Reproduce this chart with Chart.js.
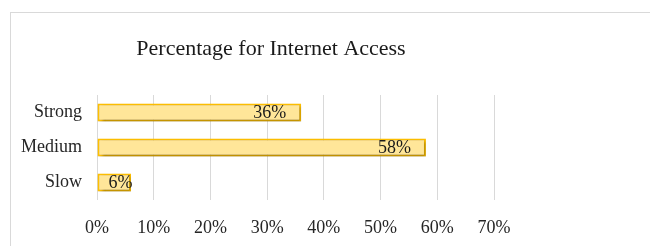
<!DOCTYPE html>
<html>
<head>
<meta charset="utf-8">
<script src="https://cdn.jsdelivr.net/npm/chart.js@4"></script>
<style>
  html, body { margin: 0; padding: 0; background: #fff; }
  #wrap { position: relative; width: 650px; height: 246px; overflow: hidden; }
  #frame { position: absolute; left: 10px; top: 12px; width: 700px; height: 300px; border: 1px solid #d9d9d9; box-sizing: border-box; }
  #chart { position: absolute; left: 0; top: 0; }
</style>
</head>
<body>
<div id="wrap">
  <div id="frame"></div>
  <canvas id="chart" width="650" height="246"></canvas>
</div>
<script>
const chartTitle = 'Percentage for Internet Access'
const categories = ['Strong', 'Medium', 'Slow']
const percentages = [36, 58, 6]
const axisMax = 70

const serif = '"Liberation Serif", "Times New Roman", serif'

// title drawn by hand so it sits where the original one does
const titlePlugin = {
    id: 'fixedTitle',
    afterDraw(chart) {
        const { ctx } = chart
        ctx.save()
        ctx.font = '22px ' + serif
        ctx.fillStyle = '#1a1a1a'
        ctx.textAlign = 'center'
        ctx.textBaseline = 'middle'
        ctx.fillText(chartTitle, 271, 49)
        ctx.restore()
    }
}

const barShadow = {
    id: 'barShadow',
    beforeDatasetDraw(chart) {
        const { ctx } = chart
        ctx.save()
        ctx.shadowColor = 'rgba(0,0,0,0.3)'
        ctx.shadowBlur = 3
        ctx.shadowOffsetX = 2
        ctx.shadowOffsetY = 2
    },
    afterDatasetDraw(chart) {
        chart.ctx.restore()
    }
}

const valueLabels = {
    id: 'valueLabels',
    afterDatasetsDraw(chart) {
        const { ctx } = chart
        const meta = chart.getDatasetMeta(0)
        ctx.save()
        ctx.font = '18px ' + serif
        ctx.fillStyle = '#1a1a1a'
        ctx.textAlign = 'right'
        ctx.textBaseline = 'middle'
        meta.data.forEach((bar, i) => {
            const text = percentages[i] + '%'
            const w = ctx.measureText(text).width
            let x = bar.x - 15
            if (x - w < bar.base + 11) x = bar.base + 11 + w
            ctx.fillText(text, x, bar.y + 1)
        })
        ctx.restore()
    }
}

function barFill(context) {
    const el = context.element
    const { ctx } = context.chart
    if (!el || el.y === undefined) return '#ffe699'
    const h = el.height || 18
    const g = ctx.createLinearGradient(0, el.y - h / 2, 0, el.y + h / 2)
    g.addColorStop(0, '#fff7d8')
    g.addColorStop(0.5, '#fff2c0')
    g.addColorStop(1, '#ffe382')
    return g
}

new Chart(document.querySelector('#chart'), {
    type: 'bar',
    data: {
        labels: categories,
        datasets: [{
            data: percentages,
            backgroundColor: barFill,
            borderColor: '#ffc000',
            borderWidth: 2,
            borderSkipped: false,
            categoryPercentage: 1,
            barPercentage: 0.52
        }]
    },
    options: {
        indexAxis: 'y',
        responsive: false,
        animation: false,
        layout: {
            padding: { top: 95, left: 12, right: 156, bottom: 0 }
        },
        plugins: {
            legend: { display: false },
            title: { display: false },
            tooltip: { enabled: false }
        },
        scales: {
            x: {
                min: 0,
                max: axisMax,
                ticks: {
                    stepSize: 10,
                    padding: 17,
                    maxRotation: 0,
                    color: '#262626',
                    font: { family: serif, size: 18 },
                    callback: v => v + '%'
                },
                grid: { color: '#d9d9d9', drawTicks: false },
                border: { display: false },
                afterFit(scale) { scale.height = 46 }
            },
            y: {
                ticks: {
                    padding: 15,
                    color: '#262626',
                    font: { family: serif, size: 18 }
                },
                grid: { display: false, drawTicks: false },
                border: { display: false },
                afterFit(scale) { scale.width = 85 }
            }
        }
    },
    plugins: [barShadow, valueLabels, titlePlugin]
})
</script>
</body>
</html>
